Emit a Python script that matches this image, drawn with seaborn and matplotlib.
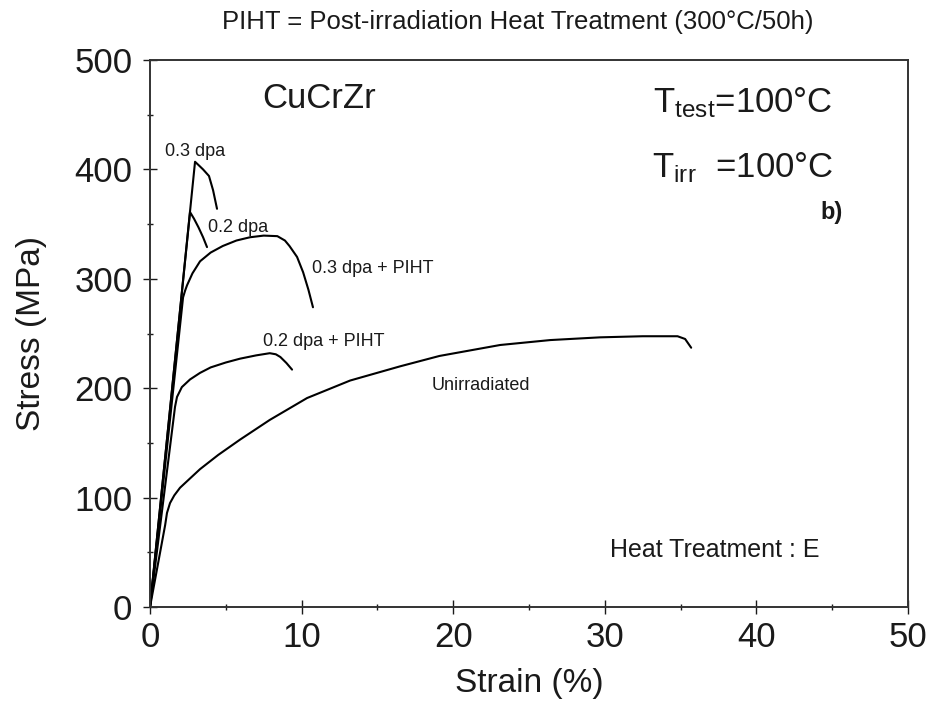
import matplotlib
matplotlib.use("Agg")
import matplotlib.pyplot as plt
from matplotlib.ticker import MultipleLocator
import pandas as pd
import seaborn as sns

# Tensile curves of CuCrZr (heat treatment E), tested at 100 °C
unirr_strain = [0, 1.0, 1.12, 1.32, 1.6, 1.98, 2.6, 3.3, 4.5, 5.94, 7.9, 10.36,
                13.2, 16.5, 19.1, 23.1, 26.4, 29.7, 32.5, 34.8, 35.3, 35.7]
unirr_stress = [0, 75, 86, 95, 102, 109, 117, 126, 139, 153, 171, 191,
                207, 220, 229.5, 239.5, 244, 246.5, 247.5, 247.5, 245, 237]

d02_piht_strain = [0, 1.65, 1.78, 2.1, 2.64, 3.3, 4.0, 5.0, 5.94, 7.0, 7.9,
                   8.3, 8.6, 9.0, 9.37]
d02_piht_stress = [0, 183, 192, 201, 208, 214, 219, 223.5, 227, 230, 232,
                   231, 228.5, 223, 217]

d03_piht_strain = [0, 2.18, 2.31, 2.44, 2.8, 3.3, 4.0, 4.8, 5.7, 6.6, 7.5,
                   8.4, 8.9, 9.2, 9.7, 10.1, 10.45, 10.75]
d03_piht_stress = [0, 283, 289, 294, 305, 316, 324, 330, 335, 338, 339.5,
                   339, 335, 330, 320, 306, 290, 274]

d02_strain = [0, 2.64, 2.9, 3.2, 3.5, 3.76]
d02_stress = [0, 361, 355, 347, 338, 329]

d03_strain = [0, 2.97, 3.2, 3.5, 3.89, 4.16, 4.42]
d03_stress = [0, 407, 404, 400, 394, 381, 364]

curve_names = ["Unirradiated", "0.2 dpa + PIHT", "0.3 dpa + PIHT", "0.2 dpa", "0.3 dpa"]
curve_strains = [unirr_strain, d02_piht_strain, d03_piht_strain, d02_strain, d03_strain]
curve_stresses = [unirr_stress, d02_piht_stress, d03_piht_stress, d02_stress, d03_stress]

# Curve label anchors (left edge, baseline) in data units
label_x = [18.6, 7.45, 10.69, 3.83, 0.99]
label_y = [198.8, 238.4, 305.6, 342.7, 412.0]

x_ticks = [0, 10, 20, 30, 40, 50]
y_ticks = [0, 100, 200, 300, 400, 500]

frames = []
for name, xs, ys in zip(curve_names, curve_strains, curve_stresses):
    frames.append(pd.DataFrame({"strain": xs, "stress": ys, "curve": name}))
df = pd.concat(frames, ignore_index=True)

sns.set_theme(style="ticks")
plt.rcParams["font.family"] = ["Liberation Sans", "DejaVu Sans"]
plt.rcParams["mathtext.default"] = "regular"

fig = plt.figure(figsize=(9.37, 7.13), dpi=100)
ax = fig.add_axes([0.1601, 0.1487, 0.8089, 0.7671])

sns.lineplot(data=df, x="strain", y="stress", units="curve", estimator=None,
             sort=False, color="black", linewidth=1.5, ax=ax)
for line in ax.lines:
    line.set_solid_joinstyle("round")

ink = "#1a1a1a"
ax.set_xlim(0, 50)
ax.set_ylim(0, 500)
ax.set_xticks(x_ticks)
ax.set_yticks(y_ticks)
ax.xaxis.set_minor_locator(MultipleLocator(5))
ax.yaxis.set_minor_locator(MultipleLocator(50))
ax.tick_params(which="major", direction="inout", length=9.5, width=1.0,
               labelsize=25, colors=ink)
ax.tick_params(which="minor", direction="inout", length=4.5, width=1.0, colors=ink)
ax.tick_params(axis="y", pad=8)
ax.tick_params(axis="x", pad=5)
for side in ["left", "right", "top", "bottom"]:
    ax.spines[side].set_visible(True)
    ax.spines[side].set_linewidth(1.4)
    ax.spines[side].set_color("#333333")

ax.set_xlabel("Strain (%)", fontsize=24, color=ink)
ax.set_ylabel("Stress (MPa)", fontsize=24, color=ink)
ax.xaxis.set_label_coords(0.5, -0.1115)
ax.yaxis.set_label_coords(-0.136, 0.5)

for name, lx, ly in zip(curve_names, label_x, label_y):
    ax.text(lx, ly, name, fontsize=13, ha="left", va="baseline", color=ink)

ax.text(7.39, 455.7, "CuCrZr", fontsize=25, ha="left", va="baseline", color=ink)
ax.text(45.05, 452, r"$\mathregular{T_{test}}$=100°C", fontsize=25,
        ha="right", va="baseline", color=ink)
ax.text(45.05, 393, r"$\mathregular{T_{irr}}$  =100°C", fontsize=25,
        ha="right", va="baseline", color=ink)
ax.text(45.7, 355, "b)", fontsize=17, fontweight="bold", ha="right",
        va="baseline", color=ink)
ax.text(30.34, 45.7, "Heat Treatment : E", fontsize=18, ha="left",
        va="baseline", color=ink)

fig.text(518 / 937, 1 - 22 / 713,
         "PIHT = Post-irradiation Heat Treatment (300°C/50h)",
         fontsize=18.5, ha="center", va="center", color=ink)

fig.savefig("out.png", dpi=100, facecolor="white")
